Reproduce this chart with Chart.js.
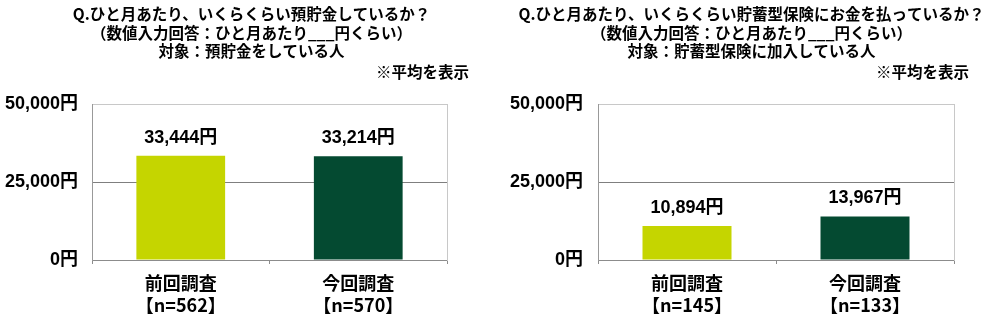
<!DOCTYPE html>
<html lang="ja">
<head>
<meta charset="utf-8">
<script src="https://cdn.jsdelivr.net/npm/chart.js@4/dist/chart.umd.min.js"></script>
<style>
  body { margin: 0; background: #fff; }
  .wrap { display: flex; width: 1000px; height: 318px; }
  .box { position: relative; width: 500px; height: 318px; }
</style>
</head>
<body>
<div class="wrap">
  <div class="box"><canvas id="savingsChart" width="500" height="318"></canvas></div>
  <div class="box"><canvas id="insuranceChart" width="500" height="318"></canvas></div>
</div>
<script>
// Data
const surveys = ["前回調査", "今回調査"];
const savingsN = [562, 570];
const savingsValues = [33444, 33214];
const insuranceN = [145, 133];
const insuranceValues = [10894, 13967];
const yTicks = [0, 25000, 50000];
const barColors = ["#c5d500", "#044a31"];

const savingsTitle = [
    "Q.ひと月あたり、いくらくらい預貯金しているか？",
    "（数値入力回答：ひと月あたり___円くらい）",
    "対象：預貯金をしている人"
];
const insuranceTitle = [
    "Q.ひと月あたり、いくらくらい貯蓄型保険にお金を払っているか？",
    "（数値入力回答：ひと月あたり___円くらい）",
    "対象：貯蓄型保険に加入している人"
];
const note = "※平均を表示";

const cjk = "'Noto Sans CJK JP', sans-serif";
const num = "'Liberation Sans', 'Noto Sans CJK JP', sans-serif";

function yen(v) {
    return v.toLocaleString("en-US") + "円";
}

// draws the value above each bar
const valueLabels = {
    id: "valueLabels",
    afterDatasetsDraw(chart) {
        const ctx = chart.ctx;
        ctx.save();
        ctx.font = "bold 18px " + num;
        ctx.fillStyle = "#000";
        ctx.textAlign = "center";
        ctx.textBaseline = "middle";
        chart.getDatasetMeta(0).data.forEach((bar, i) => {
            ctx.fillText(yen(chart.data.datasets[0].data[i]), bar.x, bar.y - 18);
        });
        ctx.restore();
    }
};

function makeChart(id, values, nList, title, leftWidth, rightWidth, tickPad) {
    const labels = surveys.map((s, i) => [s, "【n=" + nList[i] + "】"]);
    return new Chart(document.getElementById(id), {
        type: "bar",
        data: {
            labels: labels,
            datasets: [{
                data: values,
                backgroundColor: barColors,
                barPercentage: 0.5,
                categoryPercentage: 1
            }]
        },
        plugins: [valueLabels],
        options: {
            responsive: false,
            animation: false,
            layout: { padding: { left: 3, right: 0, top: 0, bottom: 2 } },
            plugins: {
                legend: { display: false },
                tooltip: { enabled: false },
                title: {
                    display: true,
                    text: title,
                    color: "#000",
                    font: { family: cjk, size: 15.5, weight: "bold", lineHeight: 1.2 },
                    padding: { top: 5, bottom: 1 }
                },
                subtitle: {
                    display: true,
                    text: note + "　　",
                    align: "end",
                    color: "#000",
                    font: { family: cjk, size: 15.5, weight: "bold", lineHeight: 1.2 },
                    padding: { top: 1, bottom: 22.6 }
                }
            },
            scales: {
                x: {
                    afterFit: s => { s.height = 56; },
                    grid: {
                        offset: true,
                        drawOnChartArea: false,
                        drawTicks: true,
                        tickLength: 4,
                        color: "#8c8c8c"
                    },
                    border: { color: "#8c8c8c" },
                    ticks: {
                        color: "#000",
                        padding: 8,
                        font: { family: cjk, size: 18, weight: "bold", lineHeight: 1.22 }
                    }
                },
                y: {
                    min: 0,
                    max: 50000,
                    afterBuildTicks: s => { s.ticks = yTicks.map(v => ({ value: v })); },
                    afterFit: s => { s.width = leftWidth; },
                    grid: {
                        drawTicks: false,
                        color: c => c.tick.value === 25000 ? "#7f7f7f" : "#c8c8c8"
                    },
                    border: { color: "#999" },
                    ticks: {
                        color: "#000",
                        padding: tickPad,
                        font: { family: num, size: 18, weight: "bold" },
                        callback: v => yen(v)
                    }
                },
                r: {
                    type: "linear",
                    position: "right",
                    afterFit: s => { s.width = rightWidth; },
                    grid: { display: false },
                    ticks: { display: false },
                    border: { display: true, color: "#c8c8c8" }
                }
            }
        }
    });
}

makeChart("savingsChart", savingsValues, savingsN, savingsTitle, 89, 53, 14);
makeChart("insuranceChart", insuranceValues, insuranceN, insuranceTitle, 95, 46, 15);
</script>
</body>
</html>
